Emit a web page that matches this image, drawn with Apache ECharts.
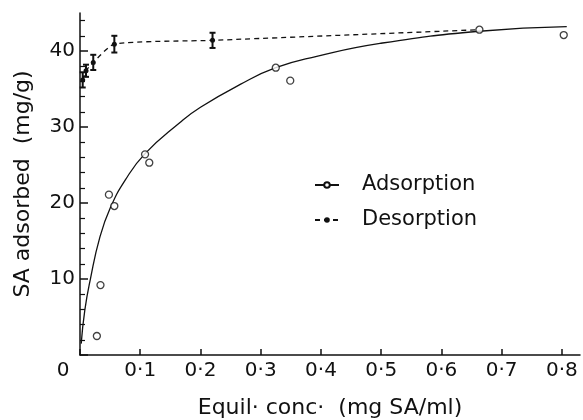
<!DOCTYPE html>
<html>
<head>
<meta charset="utf-8">
<script src="https://cdn.jsdelivr.net/npm/echarts@6/dist/echarts.min.js"></script>
<style>
html, body { margin: 0; padding: 0; background: #fff; }
#chart { width: 583px; height: 420px; }
</style>
</head>
<body>
<div id="chart"></div>
<script>
// adsorption measurements (open circles)
const adsX = [0.028, 0.034, 0.048, 0.057, 0.108, 0.115, 0.325, 0.349, 0.663, 0.803];
const adsY = [2.5, 9.2, 21.1, 19.6, 26.4, 25.3, 37.8, 36.1, 42.8, 42.1];
// fitted adsorption curve
const fitX = [0.002, 0.008, 0.017, 0.033, 0.05, 0.075, 0.108, 0.166, 0.2, 0.266, 0.325, 0.393, 0.498, 0.663, 0.808];
const fitY = [1.5, 5.9, 9.9, 15.5, 19.3, 23.0, 26.5, 30.6, 32.6, 35.6, 37.8, 39.3, 41.0, 42.6, 43.2];
// desorption points with error bars
const desX = [0.0045, 0.01, 0.022, 0.057, 0.22, 0.663];
const desY = [36.2, 37.4, 38.5, 40.9, 41.4, 42.8];
const desErr = [1.0, 0.8, 1.0, 1.1, 1.0, 0];
// tick labels
const xTicks = [0, 0.1, 0.2, 0.3, 0.4, 0.5, 0.6, 0.7, 0.8];
const yTicks = [10, 20, 30, 40];

const font = 'DejaVu Sans';
const ink = '#111';

const chart = echarts.init(document.getElementById('chart'), null, { renderer: 'canvas' });

const zip = (xs, ys) => xs.map((x, i) => [x, ys[i]]);

chart.setOption({
  backgroundColor: '#fff',
  animation: false,
  grid: { left: 80, right: 3, top: 13, bottom: 65, outerBoundsMode: 'none' },
  legend: {
    orient: 'vertical',
    left: 309,
    top: 169,
    itemWidth: 24,
    itemHeight: 7,
    itemGap: 13,
    data: ['Adsorption', 'Desorption'],
    textStyle: { fontFamily: font, fontSize: 21, color: ink, lineHeight: 22, padding: [0, 0, 0, 18] }
  },
  xAxis: {
    type: 'value',
    min: 0,
    max: 0.83,
    interval: 0.1,
    name: 'Equil· conc·  (mg SA/ml)',
    nameLocation: 'middle',
    nameGap: 42,
    nameTextStyle: { fontFamily: font, fontSize: 22, color: ink },
    axisLine: { show: true, onZero: false, lineStyle: { color: ink, width: 1.5 } },
    axisTick: { show: true, inside: true, length: 6, lineStyle: { color: ink, width: 1.5 }, customValues: xTicks },
    axisLabel: {
      customValues: xTicks,
      margin: 6,
      fontFamily: font,
      fontSize: 20,
      color: ink,
      formatter: v => v === 0 ? '{z|0}' : String(+v.toFixed(1)).replace('.', '·'),
      rich: { z: { fontFamily: font, fontSize: 20, color: ink, padding: [0, 34, 0, 0] } }
    },
    splitLine: { show: false }
  },
  yAxis: {
    type: 'value',
    min: 0,
    max: 45,
    interval: 10,
    name: 'SA adsorbed  (mg/g)',
    nameLocation: 'middle',
    nameGap: 46,
    nameTextStyle: { fontFamily: font, fontSize: 22, color: ink },
    axisLine: { show: true, lineStyle: { color: ink, width: 1.5 } },
    axisTick: { show: true, inside: true, length: 8, lineStyle: { color: ink, width: 1.5 }, customValues: [0, 10, 20, 30, 40] },
    minorTick: { show: true, splitNumber: 5, length: 5, lineStyle: { color: ink, width: 1.2 } },
    axisLabel: { customValues: yTicks, margin: 5, fontFamily: font, fontSize: 20, color: ink },
    splitLine: { show: false }
  },
  series: [
    {
      name: 'Adsorption',
      type: 'line',
      data: zip(fitX, fitY),
      smooth: 0.5,
      symbol: 'emptyCircle',
      symbolSize: 7,
      showSymbol: false,
      itemStyle: { color: ink },
      lineStyle: { color: ink, width: 1.3 },
      z: 2
    },
    {
      name: 'Adsorption points',
      type: 'scatter',
      data: zip(adsX, adsY),
      symbol: 'circle',
      symbolSize: 7,
      itemStyle: { color: '#fff', borderColor: ink, borderWidth: 1.3 },
      z: 5
    },
    {
      name: 'Desorption',
      type: 'line',
      data: desX.map((x, i) => i === desX.length - 1
        ? { value: [x, desY[i]], symbol: 'none' }
        : [x, desY[i]]),
      smooth: 0.2,
      symbol: 'circle',
      symbolSize: 5,
      itemStyle: { color: ink },
      lineStyle: { color: ink, width: 1.3, type: [5, 4] },
      z: 3
    },
    {
      name: 'Desorption error',
      type: 'custom',
      data: desX.map((x, i) => [x, desY[i], desErr[i]]),
      renderItem: (params, api) => {
        const e = api.value(2);
        if (!e) return null;
        const x = api.value(0), y = api.value(1);
        const lo = api.coord([x, y - e]);
        const hi = api.coord([x, y + e]);
        const style = { stroke: ink, lineWidth: 2 };
        return {
          type: 'group',
          children: [
            { type: 'line', shape: { x1: lo[0], y1: lo[1], x2: hi[0], y2: hi[1] }, style },
            { type: 'line', shape: { x1: lo[0] - 3, y1: lo[1], x2: lo[0] + 3, y2: lo[1] }, style },
            { type: 'line', shape: { x1: hi[0] - 3, y1: hi[1], x2: hi[0] + 3, y2: hi[1] }, style }
          ]
        };
      },
      z: 4
    }
  ]
});
</script>
</body>
</html>
